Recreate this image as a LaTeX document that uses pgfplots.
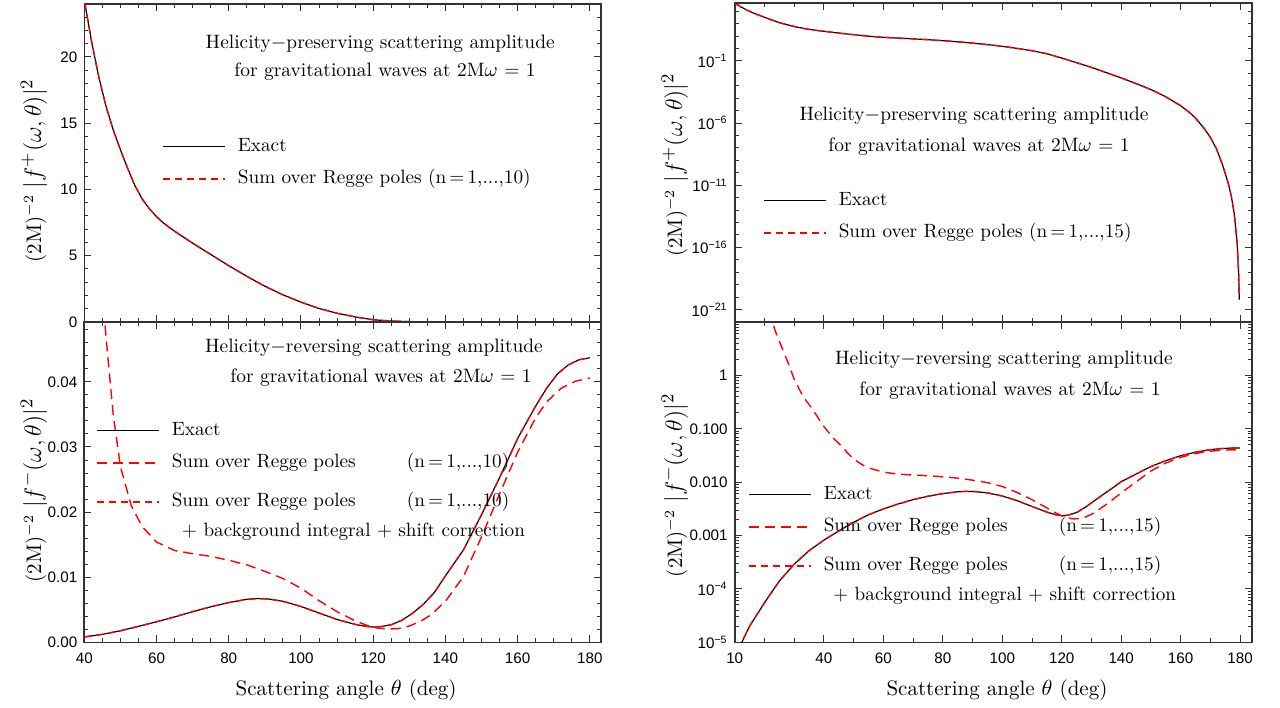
\documentclass[border=0pt]{standalone}
\usepackage{fontspec}
\usepackage{pgfplots}
\pgfplotsset{compat=1.18}
\usepackage{pgfplotstable}
\newfontfamily\tickfont{Liberation Sans}

% |f^+|^2 (exact and Regge-pole sum coincide), full range for the log panel
\pgfplotstableread{
x y
10 4300
12 2255
14 1268
16 757
19 400
22 215
25 121
28 77
31 52
34 38
37 29.5
40 24.3
42 21.2
44 18.5
46 16.3
48 14.5
50 13.0
52 11.6
54 10.3
56 9.3
58 8.55
60 7.95
62 7.45
65 6.85
70 5.95
75 5.1
80 4.25
85 3.45
90 2.7
95 2.05
100 1.5
105 1.02
110 0.66
115 0.38
120 0.17
125 0.072
130 0.030
135 0.0115
140 0.0043
145 0.0015
150 5.0e-4
155 1.3e-4
160 2.5e-5
163 7.0e-6
165 2.5e-6
168 3.5e-7
170 7.0e-8
172 9.0e-9
174 5.0e-10
175 8.7e-11
176 1.45e-11
177 1.45e-12
178 5.6e-14
179 2.24e-16
179.5 8.7e-19
179.73 6.3e-21
}\fplus

% the same values from 37 deg on, for the linear panel
\pgfplotstableread{
x y
37 29.5
40 24.3
42 21.2
44 18.5
46 16.3
48 14.5
50 13.0
52 11.6
54 10.3
56 9.3
58 8.55
60 7.95
62 7.45
65 6.85
70 5.95
75 5.1
80 4.25
85 3.45
90 2.7
95 2.05
100 1.5
105 1.02
110 0.66
115 0.38
120 0.17
125 0.072
130 0.030
135 0.0115
140 0.0043
145 0.0015
150 5.0e-4
155 1.3e-4
160 2.5e-5
170 7.0e-8
180 0
}\fplusL

% |f^-|^2 exact (also sum over poles + background + shift)
\pgfplotstableread{
x y
10 4.5e-6
12 9.0e-6
15 2.0e-5
20 5.5e-5
25 1.4e-4
30 2.9e-4
35 5.2e-4
40 8.2e-4
45 1.22e-3
50 1.77e-3
55 2.45e-3
60 3.15e-3
65 3.9e-3
70 4.7e-3
75 5.45e-3
80 6.1e-3
85 6.6e-3
88 6.72e-3
91 6.65e-3
95 6.3e-3
100 5.5e-3
105 4.5e-3
110 3.5e-3
115 2.75e-3
118 2.45e-3
120 2.35e-3
122 2.4e-3
125 2.7e-3
128 3.4e-3
131 4.5e-3
134 5.9e-3
137 7.7e-3
140 1.02e-2
145 1.42e-2
150 1.96e-2
155 2.53e-2
160 3.13e-2
165 3.63e-2
168 3.90e-2
171 4.12e-2
174 4.26e-2
177 4.34e-2
180 4.37e-2
}\fminus

% |f^-|^2 sum over Regge poles only
\pgfplotstableread{
x y
18 60
20 25
22 12.5
24 6.0
26 3.2
28 1.7
30 0.85
33 0.4
36 0.24
40 0.11
43 0.068
46 0.047
48 0.035
50 0.027
53 0.021
56 0.0178
60 0.0154
65 0.0141
70 0.0136
75 0.0132
80 0.0126
85 0.0119
90 0.0109
95 0.0098
100 0.0083
105 0.0064
110 0.0047
115 0.0033
118 0.00265
121 0.0022
124 0.00205
127 0.0021
130 0.0025
133 0.0032
136 0.0042
140 0.0063
145 0.0101
150 0.0162
155 0.0228
160 0.0292
165 0.0345
168 0.0369
172 0.0390
176 0.0401
180 0.0406
}\fminusregge

\definecolor{myred}{RGB}{255,0,0}

\pgfplotsset{
  myaxis/.style={
    scale only axis,
    scaled x ticks=false, scaled y ticks=false,
    axis line style={line width=0.8pt, black!80},
    every tick/.append style={black!80, line width=0.5pt},
    major tick length=3.5pt,
    minor tick length=2pt,
    tick label style={font=\tickfont\fontsize{7.6}{9}\selectfont},
    xticklabel style={yshift=-2pt},
    /pgf/number format/assume math mode=true,
    label style={font=\fontsize{10.5}{12}\selectfont},
    legend cell align=left,
    legend image code/.code={\draw[##1] (0pt,0pt) -- (31pt,0pt);},
    legend style={draw=none, fill=none, inner sep=0pt, row sep=4.8pt, column sep=6pt,
      anchor=north west, font=\fontsize{9.6}{11.5}\selectfont,
      nodes={inner sep=0pt, text height=8pt, text depth=3.4pt}},
  },
  exact/.style={draw=black, line width=0.6pt},
  reggeT/.style={draw=myred, color=myred, line width=0.7pt, dash pattern=on 3.6pt off 2.4pt},
  reggeL/.style={draw=myred, color=myred, line width=0.7pt, dash pattern=on 5pt off 3pt},
  reggeS/.style={draw=myred, color=myred, line width=0.7pt, dash pattern=on 3.5pt off 2.5pt},
}

\newcommand{\ylab}[1]{{\fontsize{10.5}{12}\selectfont(2M)$^{-2}$}\,\,{\fontsize{13}{15}\selectfont$|f^{#1}(\omega,\theta)|^{2}$}}
\newcommand{\tfont}{\fontsize{9.7}{12}\selectfont}
\newcommand{\TL}[3]{\node[anchor=center, inner sep=0pt, text height=7pt, text depth=2.4pt, font=\tfont] at (#1pt,#2pt) {#3};}

\begin{document}
\begin{tikzpicture}
\useasboundingbox (0,0) rectangle (640pt,353.5pt);

% ---------------- left top ----------------
\begin{axis}[myaxis, at={(42.15pt,192.5pt)}, anchor=south west,
  width=258.2pt, height=159pt,
  xmin=40, xmax=183, ymin=0, ymax=24,
  xtick={40,60,80,100,120,140,160,180}, minor xtick={45,50,...,180}, xticklabels={},
  ytick={0,5,10,15,20}, yticklabels={0,5,10,15,20}, minor ytick={1,2,...,24},
  ylabel={\ylab{+}},
  ylabel style={at={(axis description cs:-0.0974,0.4755)}, anchor=center},
  legend style={at={(axis description cs:0.1505,0.589)}},
]
\addlegendimage{exact}
\addlegendentry{Exact}
\addlegendimage{myred, line width=0.75pt, dash pattern=on 3.6pt off 2.4pt}
\addlegendentry{Sum over Regge poles (n\,=\,1,...,10)}
\addplot[exact, forget plot] table {\fplusL};
\addplot[reggeT, forget plot] table {\fplusL};
\end{axis}

% ---------------- left bottom ----------------
\begin{axis}[myaxis, at={(42.15pt,32.35pt)}, anchor=south west,
  width=258.2pt, height=160.15pt,
  xmin=40, xmax=183, ymin=0, ymax=0.0492,
  xtick={40,60,80,100,120,140,160,180}, minor xtick={45,50,...,180},
  xticklabels={40,60,80,100,120,140,160,180},
  ytick={0,0.01,0.02,0.03,0.04}, yticklabels={0.00,0.01,0.02,0.03,0.04},
  minor ytick={0.002,0.004,0.006,0.008,0.012,0.014,0.016,0.018,0.022,0.024,0.026,0.028,0.032,0.034,0.036,0.038,0.042,0.044,0.046,0.048},
  ylabel={\ylab{-}},
  ylabel style={at={(axis description cs:-0.0974,0.474)}, anchor=center},
  xlabel={Scattering angle $\theta$ (deg)},
  xlabel style={at={(axis description cs:0.507,-0.149)}, anchor=center},
  legend style={at={(axis description cs:0.0227,0.698)}},
]
\addplot[exact, restrict x to domain=39:185] table {\fminus};
\addlegendentry{Exact}
\addplot[reggeL, restrict x to domain=39:185] table {\fminusregge};
\addlegendentry{\makebox[117.5pt][l]{Sum over Regge poles}(n\,=\,1,...,10)}
\addplot[reggeS, restrict x to domain=39:185] table {\fminus};
\addlegendentry[text height=11.3pt, text depth=6.7pt]{\makebox[117.5pt][l]{Sum over Regge poles}(n\,=\,1,...,10)}
\end{axis}

% ---------------- right top ----------------
\begin{axis}[myaxis, at={(367.35pt,192.5pt)}, anchor=south west,
  width=258.65pt, height=159.5pt,
  xmin=10, xmax=184, ymode=log, ymin=1e-22, ymax=4570,
  xtick={10,40,60,80,100,120,140,160,180}, minor xtick={20,30,50,70,90,110,130,150,170}, xticklabels={},
  ytick={1e-21,1e-16,1e-11,1e-6,1e-1},
  yticklabels={10\textsuperscript{−21},10\textsuperscript{−16},10\textsuperscript{−11},10\textsuperscript{−6},10\textsuperscript{−1}},
  minor ytick={1e-22,1e-20,1e-19,1e-18,1e-17,1e-15,1e-14,1e-13,1e-12,1e-10,1e-9,1e-8,1e-7,1e-5,1e-4,1e-3,1e-2,1,10,100,1000},
  ylabel={\ylab{+}},
  ylabel style={at={(axis description cs:-0.1154,0.492)}, anchor=center},
  legend style={at={(axis description cs:0.0547,0.418)}},
]
\addplot[exact] table {\fplus};
\addlegendentry{Exact}
\addplot[reggeT] table {\fplus};
\addlegendentry{Sum over Regge poles (n\,=\,1,...,15)}
\end{axis}

% ---------------- right bottom ----------------
\begin{axis}[myaxis, at={(367.35pt,32.35pt)}, anchor=south west,
  width=258.65pt, height=160.15pt,
  xmin=10, xmax=184, ymode=log, ymin=1e-5, ymax=10,
  xtick={10,40,60,80,100,120,140,160,180}, minor xtick={20,30,50,70,90,110,130,150,170},
  xticklabels={10,40,60,80,100,120,140,160,180},
  ytick={1e-5,1e-4,1e-3,1e-2,1e-1,1},
  yticklabels={10\textsuperscript{−5},10\textsuperscript{−4},0.001,0.010,0.100,1},
  minor ytick={2e-5,3e-5,4e-5,5e-5,6e-5,7e-5,8e-5,9e-5,2e-4,3e-4,4e-4,5e-4,6e-4,7e-4,8e-4,9e-4,2e-3,3e-3,4e-3,5e-3,6e-3,7e-3,8e-3,9e-3,2e-2,3e-2,4e-2,5e-2,6e-2,7e-2,8e-2,9e-2,0.2,0.3,0.4,0.5,0.6,0.7,0.8,0.9,2,3,4,5,6,7,8,9},
  ylabel={\ylab{-}},
  ylabel style={at={(axis description cs:-0.1154,0.49)}, anchor=center},
  xlabel={Scattering angle $\theta$ (deg)},
  xlabel style={at={(axis description cs:0.507,-0.149)}, anchor=center},
  legend style={at={(axis description cs:0.0257,0.4977)}},
]
\addplot[exact] table {\fminus};
\addlegendentry{Exact}
\addplot[reggeL] table {\fminusregge};
\addlegendentry{\makebox[117.5pt][l]{Sum over Regge poles}(n\,=\,1,...,15)}
\addplot[reggeS] table {\fminus};
\addlegendentry[text height=11.3pt, text depth=6.7pt]{\makebox[117.5pt][l]{Sum over Regge poles}(n\,=\,1,...,15)}
\end{axis}

% ---------------- annotations ----------------
\TL{190.1}{331.5}{Helicity$-$preserving scattering amplitude}
\TL{192.5}{317.5}{for gravitational waves at 2M$\omega$ = 1}
\TL{187}{179.65}{Helicity$-$reversing scattering amplitude}
\TL{190.5}{164.35}{for gravitational waves at 2M$\omega$ = 1}
\TL{487}{295.65}{Helicity$-$preserving scattering amplitude}
\TL{489.5}{280.15}{for gravitational waves at 2M$\omega$ = 1}
\TL{502}{173.5}{Helicity$-$reversing scattering amplitude}
\TL{505}{158.15}{for gravitational waves at 2M$\omega$ = 1}
\node[anchor=west, inner sep=0pt, text height=8pt, text depth=3.4pt, font=\fontsize{9.6}{11.5}\selectfont] at (90.9pt,87.65pt) {+ background integral + shift correction};
\node[anchor=west, inner sep=0pt, text height=8pt, text depth=3.4pt, font=\fontsize{9.6}{11.5}\selectfont] at (416.5pt,55.65pt) {+ background integral + shift correction};
\end{tikzpicture}
\end{document}
